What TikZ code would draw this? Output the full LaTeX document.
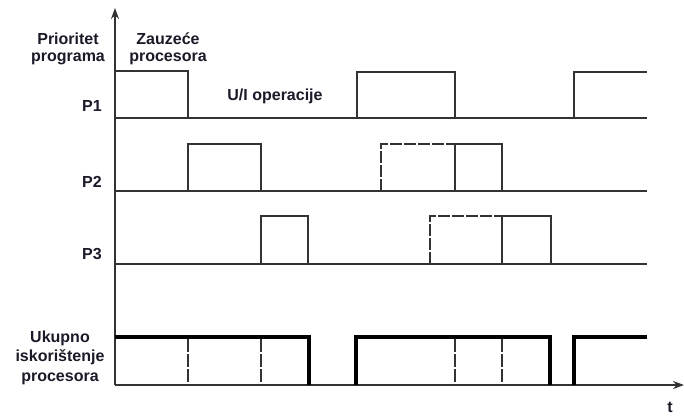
\documentclass[tikz,border=0pt]{standalone}
\usepackage{fontspec}
\setmainfont{Liberation Sans}
\usetikzlibrary{arrows.meta}
\definecolor{linec}{HTML}{333333}
\definecolor{textc}{HTML}{1A1A28}
\tikzset{
  sig/.style={draw=linec, line width=1.3pt, line join=miter},
  sigdash/.style={sig, dash pattern=on 12pt off 2pt},
  busy/.style={draw=black, line width=4.3pt, line join=miter},
  axis/.style={draw=linec, line width=1.3pt, -{Stealth[length=11pt,width=8pt]}},
  lbl/.style={text=textc, font=\fontsize{16}{17}\selectfont\bfseries, inner sep=0pt, anchor=base},
  lblm/.style={lbl, align=center}
}
\begin{document}
\begin{tikzpicture}[x=1pt,y=-1pt]
\useasboundingbox (0,0) rectangle (684,415);
\fill[white] (0,0) rectangle (684,415);
% axes
\coordinate (O) at (115,385);
\coordinate (Ytop) at (115,8);
\coordinate (Xend) at (684,385);
\draw[axis] (O) -- (Ytop);
\draw[axis] (O) -- (Xend);
% P1
\draw[sig] (115,118) -- (647,118);
\draw[sig] (115,71) -- (188,71) -- (188,118);
\draw[sig] (357,118) -- (357,72) -- (455,72) -- (455,118);
\draw[sig] (574,118) -- (574,72) -- (647,72);
% P2
\draw[sig] (115,191) -- (647,191);
\draw[sig] (188,191) -- (188,144) -- (261,144) -- (261,191);
\draw[sigdash] (381,191) -- (381,144) -- (455,144);
\draw[sig] (455,191) -- (455,144) -- (502,144) -- (502,191);
% P3
\draw[sig] (115,264) -- (647,264);
\draw[sig] (261,264) -- (261,216) -- (308,216) -- (308,264);
\draw[sigdash] (430,264) -- (430,216) -- (502,216);
\draw[sig] (502,264) -- (502,216) -- (551,216) -- (551,264);
% total
\draw[busy] (115,337) -- (309,337) -- (309,385);
\draw[busy] (356,385) -- (356,337) -- (550,337) -- (550,385);
\draw[busy] (574,385) -- (574,337) -- (647,337);
\foreach \xx in {188,261,455,502} \draw[sigdash, dash pattern=on 13pt off 2pt] (\xx,339) -- (\xx,385);
% labels
\node[lblm] (prio) at (68,61) {Prioritet\\programa};
\node[lblm] (zauz) at (168,61) {Zauzeće\\procesora};
\node[lbl] (p1) at (92,111) {P1};
\node[lbl] (ui) at (275,100) {U/I operacije};
\node[lbl] (p2) at (92,187) {P2};
\node[lbl] (p3) at (92,259) {P3};
\node[lblm, font=\fontsize{16}{19.5}\selectfont\bfseries] (uk) at (60,381) {Ukupno\\iskorištenje\\procesora};
\node[lbl] (t) at (670,412) {t};
\end{tikzpicture}
\end{document}
